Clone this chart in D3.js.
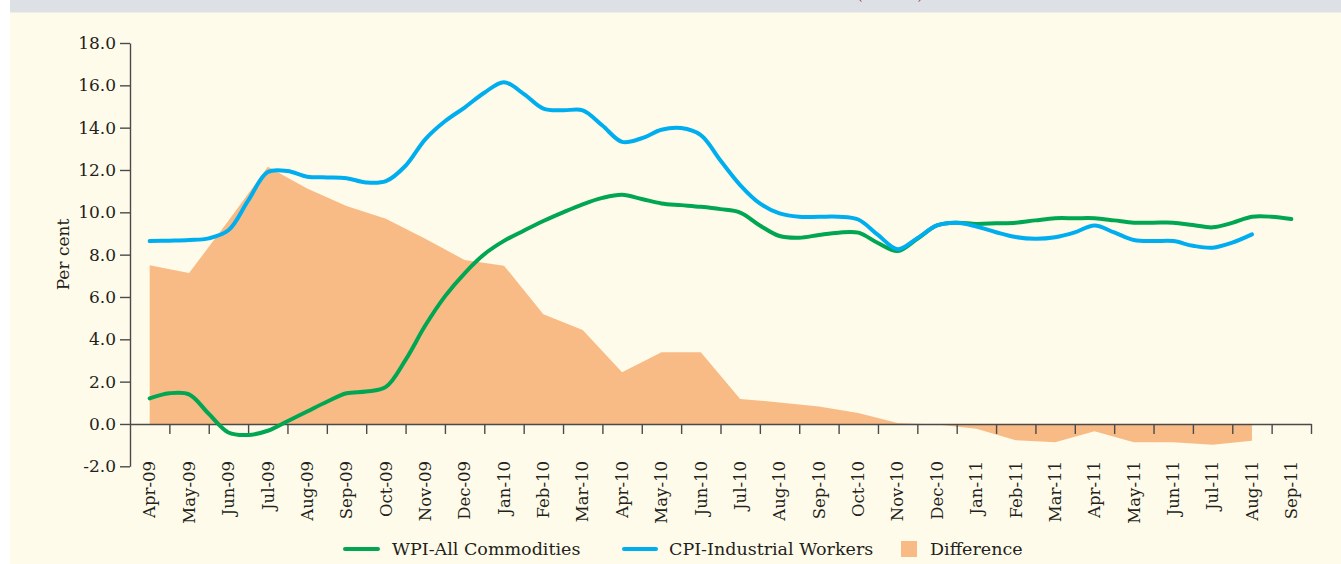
<!DOCTYPE html>
<html>
<head>
<meta charset="utf-8">
<script src="https://cdn.jsdelivr.net/npm/d3@7"></script>
<style>
  html, body { margin: 0; padding: 0; background: #ffffff; }
  svg { display: block; }
  text { font-family: "DejaVu Serif", serif; fill: #231f20; }
</style>
</head>
<body>
<svg id="chart" width="1341" height="564"></svg>
<script>
// ---------- data ----------
const months = ["Apr-09","May-09","Jun-09","Jul-09","Aug-09","Sep-09","Oct-09","Nov-09","Dec-09",
  "Jan-10","Feb-10","Mar-10","Apr-10","May-10","Jun-10","Jul-10","Aug-10","Sep-10","Oct-10","Nov-10","Dec-10",
  "Jan-11","Feb-11","Mar-11","Apr-11","May-11","Jun-11","Jul-11","Aug-11","Sep-11"];

// line series sampled every half month, starting Apr-09
const wpiAll = [1.21,1.45,1.40,0.48,-0.40,-0.52,-0.32,0.13,0.59,1.05,1.45,1.53,1.75,3.03,4.65,6.03,7.12,8.02,
  8.65,9.13,9.59,10.00,10.38,10.68,10.83,10.63,10.42,10.34,10.26,10.15,9.99,9.38,8.88,8.80,8.93,9.04,9.04,8.55,
  8.17,8.75,9.38,9.51,9.45,9.48,9.51,9.62,9.72,9.72,9.72,9.62,9.51,9.51,9.51,9.40,9.29,9.50,9.79,9.79,9.68];
const cpiIW = [8.64,8.66,8.69,8.77,9.15,10.55,11.90,11.95,11.68,11.65,11.61,11.41,11.47,12.20,13.45,14.30,14.95,
  15.65,16.15,15.60,14.90,14.82,14.82,14.10,13.33,13.50,13.90,13.98,13.65,12.45,11.29,10.42,9.95,9.79,9.79,9.79,
  9.66,8.93,8.26,8.78,9.38,9.51,9.33,9.06,8.83,8.75,8.82,9.05,9.38,9.05,8.69,8.64,8.64,8.42,8.33,8.57,8.96];
// monthly difference (CPI-IW minus WPI), Apr-09 .. Aug-11
const difference = [7.50,7.13,9.60,12.15,11.13,10.30,9.70,8.75,7.75,7.48,5.18,4.44,2.44,3.39,3.39,1.18,1.02,
  0.82,0.52,0.05,-0.03,-0.22,-0.77,-0.86,-0.34,-0.86,-0.86,-0.98,-0.79];

const yTicks = [-2,0,2,4,6,8,10,12,14,16,18];
const yTickLabels = ["-2.0","0.0","2.0","4.0","6.0","8.0","10.0","12.0","14.0","16.0","18.0"];

const legendItems = ["WPI-All Commodities","CPI-Industrial Workers","Difference"];

// ---------- layout ----------
const W = 1341, H = 564;
const svg = d3.select("#chart");

svg.append("rect").attr("x", 10).attr("y", 0).attr("width", W - 10).attr("height", H).attr("fill", "#fffbea");
svg.append("rect").attr("x", 10).attr("y", 0).attr("width", W - 10).attr("height", 12.5).attr("fill", "#dde1e5");
svg.append("text").attr("x", 890).attr("y", 0).attr("text-anchor", "middle")
  .style("font-size", "13px").style("fill", "#a3203a").text("(Per cent)");

const x = d3.scaleLinear().domain([-0.5, 29.5]).range([130, 1311]);
const y = d3.scaleLinear().domain([-2, 18]).range([466.3, 43]);

const colWPI = "#00a651", colCPI = "#00aeef", colDiff = "#f8bb85", axisCol = "#4a4a4a";

// area
const area = d3.area()
  .x((d, i) => x(i))
  .y0(y(0))
  .y1(d => y(d));
svg.append("path").datum(difference).attr("d", area).attr("fill", colDiff);

// y axis
const yAxis = d3.axisLeft(y).tickValues(yTicks).tickSize(10).tickSizeOuter(0)
  .tickFormat((d, i) => yTickLabels[i]).tickPadding(4);
const gy = svg.append("g").attr("transform", "translate(130,0)").call(yAxis);
gy.selectAll("path, line").attr("stroke", axisCol).attr("stroke-width", 1.4);
gy.selectAll("text").style("font-size", "17px").style("font-family", "DejaVu Serif, serif").attr("fill", "#231f20");

// x axis (ticks at month boundaries)
const boundaries = months.map((m, i) => i + 0.5);
const xAxis = d3.axisBottom(x).tickValues(boundaries).tickSize(10).tickSizeOuter(0).tickFormat("");
const gx = svg.append("g").attr("transform", `translate(0,${y(0)})`).call(xAxis);
gx.selectAll("path, line").attr("stroke", axisCol).attr("stroke-width", 1.4);

// month labels
svg.append("g").selectAll("text").data(months).join("text")
  .attr("transform", (d, i) => `translate(${x(i)},461) rotate(-90)`)
  .attr("text-anchor", "end")
  .attr("dy", "0.35em")
  .style("font-size", "16.5px")
  .text(d => d);

// y label
svg.append("text").attr("transform", "translate(63,254.5) rotate(-90)")
  .attr("text-anchor", "middle").attr("dy", "0.35em").style("font-size", "17px").text("Per cent");

// lines
const line = d3.line().x((d, i) => x(i * 0.5)).y(d => y(d)).curve(d3.curveCatmullRom.alpha(0.5));
svg.append("path").datum(wpiAll).attr("d", line).attr("fill", "none")
  .attr("stroke", colWPI).attr("stroke-width", 4).attr("stroke-linecap", "round").attr("stroke-linejoin", "round");
svg.append("path").datum(cpiIW).attr("d", line).attr("fill", "none")
  .attr("stroke", colCPI).attr("stroke-width", 4).attr("stroke-linecap", "round").attr("stroke-linejoin", "round");

// legend
const lg = svg.append("g");
const ly = 549;
lg.append("line").attr("x1", 345).attr("x2", 378).attr("y1", ly).attr("y2", ly)
  .attr("stroke", colWPI).attr("stroke-width", 4).attr("stroke-linecap", "round");
lg.append("text").attr("x", 392).attr("y", ly).attr("dy", "0.35em").style("font-size", "17.5px").text(legendItems[0]);
lg.append("line").attr("x1", 624).attr("x2", 656).attr("y1", ly).attr("y2", ly)
  .attr("stroke", colCPI).attr("stroke-width", 4).attr("stroke-linecap", "round");
lg.append("text").attr("x", 669).attr("y", ly).attr("dy", "0.35em").style("font-size", "17.5px").text(legendItems[1]);
lg.append("rect").attr("x", 901).attr("y", ly - 8).attr("width", 16).attr("height", 16).attr("fill", colDiff);
lg.append("text").attr("x", 930).attr("y", ly).attr("dy", "0.35em").style("font-size", "17.5px").text(legendItems[2]);
</script>
</body>
</html>
